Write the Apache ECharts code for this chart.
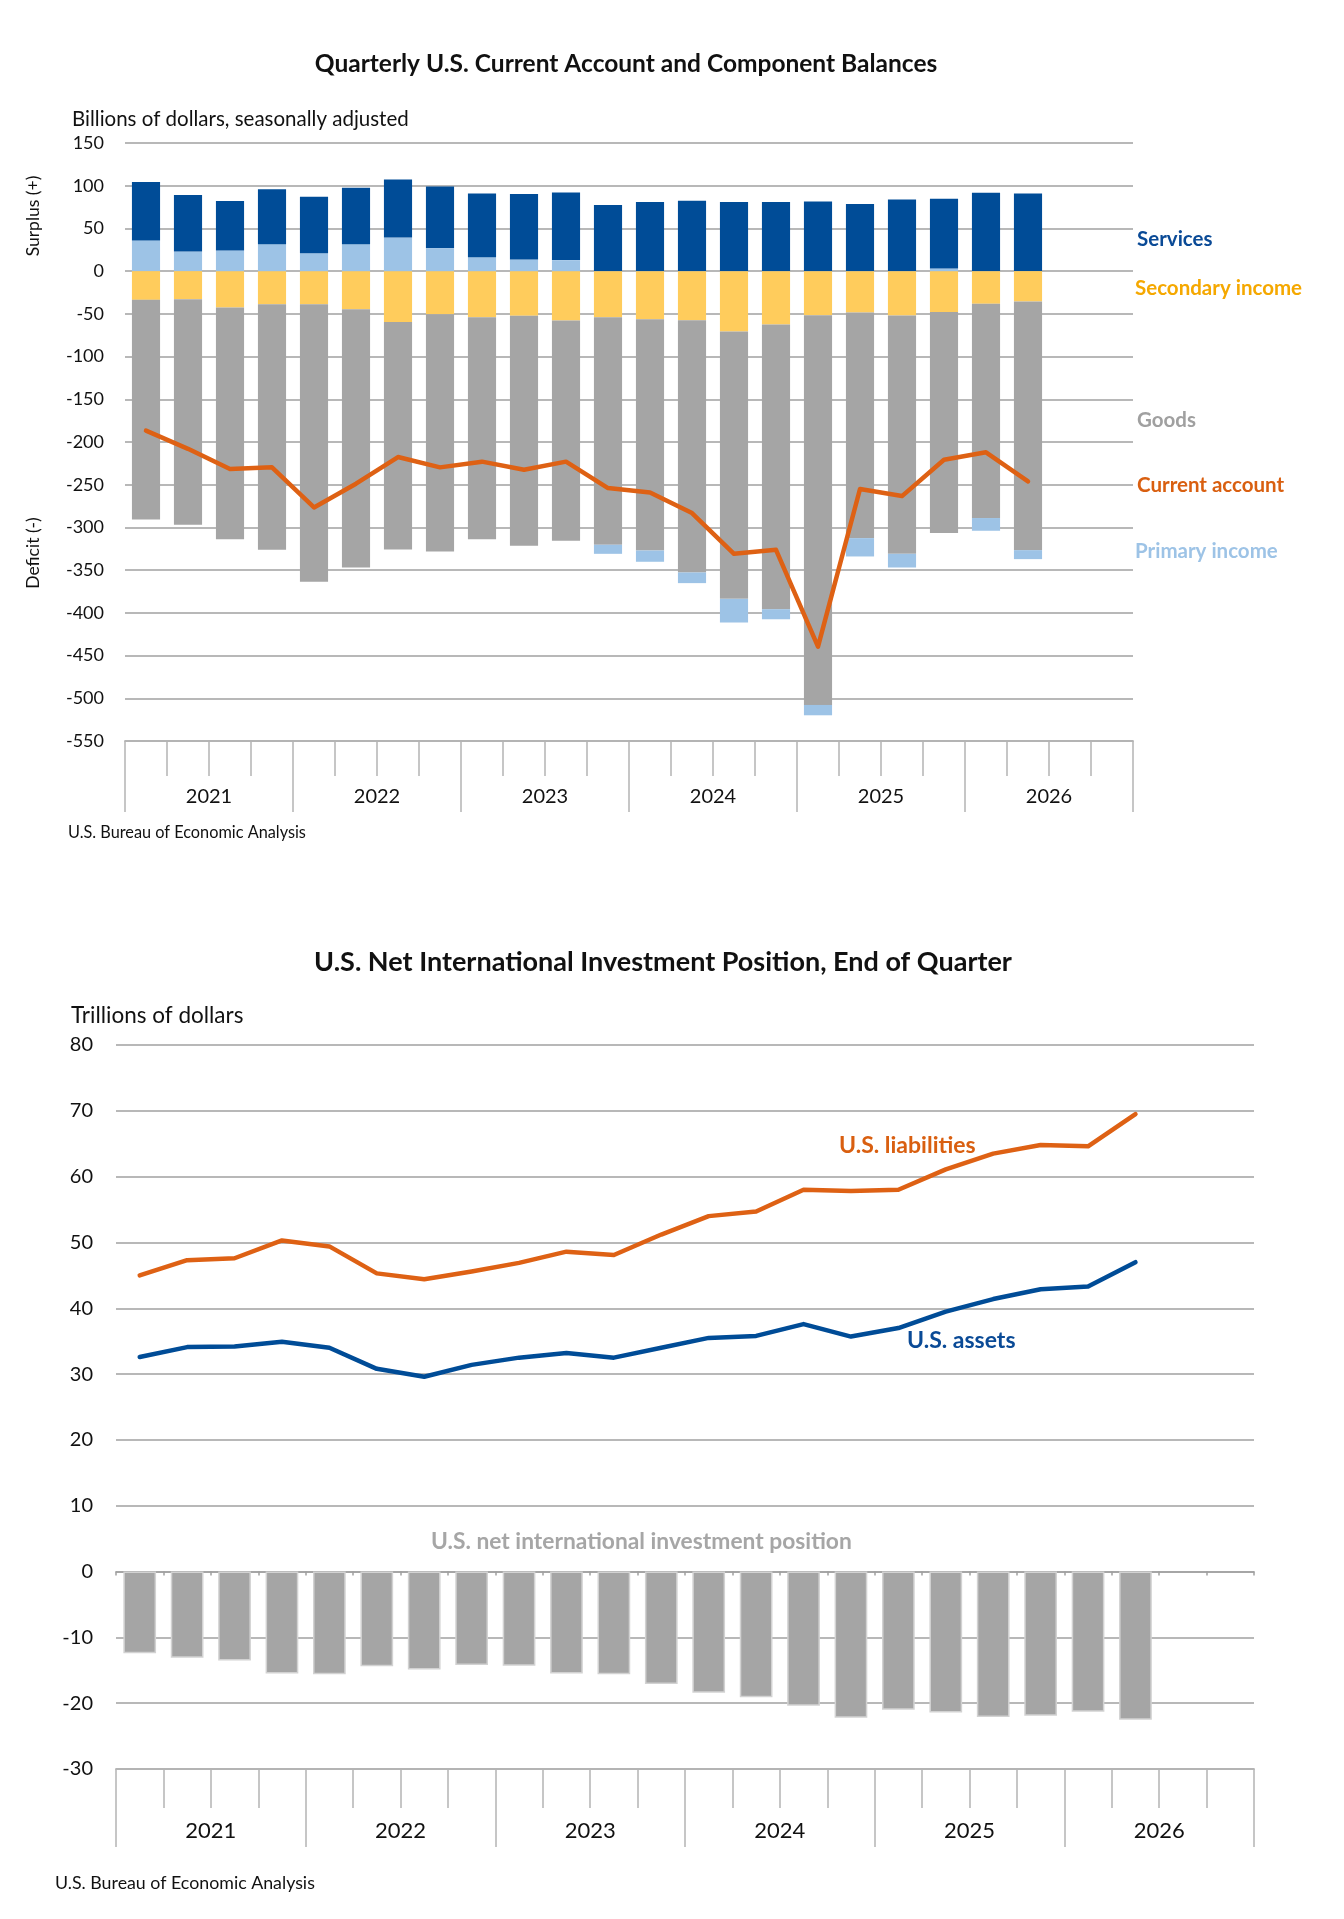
<!DOCTYPE html>
<html>
<head>
<meta charset="utf-8">
<script src="https://cdn.jsdelivr.net/npm/echarts@6/dist/echarts.min.js"></script>
<style>
  html, body { margin: 0; padding: 0; background: #fff; }
  #chart { width: 1344px; height: 1919px; }
</style>
</head>
<body>
<div id="chart"></div>
<script>
// ---------- Data: top chart (billions of dollars) ----------
const quarters = [
  '2021 Q1','2021 Q2','2021 Q3','2021 Q4',
  '2022 Q1','2022 Q2','2022 Q3','2022 Q4',
  '2023 Q1','2023 Q2','2023 Q3','2023 Q4',
  '2024 Q1','2024 Q2','2024 Q3','2024 Q4',
  '2025 Q1','2025 Q2','2025 Q3','2025 Q4',
  '2026 Q1','2026 Q2','2026 Q3','2026 Q4'
];
const years = ['2021', '2022', '2023', '2024', '2025', '2026'];

const services = [68.3, 66.0, 57.8, 64.4, 66.0, 66.1, 67.9, 72.2, 74.6, 76.5, 79.3,
                  77.3, 80.9, 82.4, 80.9, 80.9, 81.6, 78.5, 84.0, 81.7, 91.8, 91.0];
const primaryIncome = [36.0, 23.0, 24.2, 31.6, 21.0, 31.6, 39.5, 27.0, 16.4, 13.7, 12.9,
                  -10.6, -13.2, -12.5, -27.7, -11.8, -12.1, -21.5, -16.0, 3.1, -14.9, -10.5];
const secondaryIncome = [-33.6, -32.8, -42.6, -38.7, -38.7, -44.5, -59.4, -50.4, -53.9, -52.3, -57.8,
                  -53.9, -56.3, -57.4, -70.7, -62.5, -51.6, -48.4, -52.0, -47.7, -38.3, -35.5];
const goods = [-257.0, -264.1, -271.1, -287.5, -325.0, -302.4, -266.4, -277.7, -259.8, -269.2, -257.8,
                  -266.4, -270.7, -295.3, -312.9, -333.2, -456.2, -264.1, -278.9, -258.9, -250.7, -291.1];
const currentAccount = [-186.7, -208.0, -231.6, -229.7, -276.6, -248.8, -217.6, -229.7, -223.0, -232.4, -223.0,
                  -253.9, -259.0, -283.2, -330.9, -326.2, -439.5, -255.0, -263.3, -220.7, -212.1, -246.1];

// ---------- Data: bottom chart (trillions of dollars) ----------
const liabilities = [45.0, 47.3, 47.6, 50.3, 49.4, 45.3, 44.4, 45.6, 46.9, 48.6, 48.1,
                  51.2, 54.0, 54.7, 58.0, 57.8, 58.0, 61.1, 63.5, 64.8, 64.6, 69.5];
const assets = [32.6, 34.1, 34.2, 34.9, 34.0, 30.8, 29.6, 31.4, 32.5, 33.2, 32.5,
                  34.0, 35.5, 35.8, 37.6, 35.7, 37.0, 39.5, 41.4, 42.9, 43.3, 47.0];
const netIIP = [-12.4, -13.1, -13.5, -15.5, -15.6, -14.4, -14.9, -14.2, -14.3, -15.5, -15.6,
                  -17.1, -18.4, -19.1, -20.4, -22.2, -21.0, -21.4, -22.1, -21.9, -21.3, -22.5];

// ---------- Styling ----------
const FONT = 'Lato, "Open Sans", sans-serif';
const C_SERV = '#004C97';
const C_PRIM = '#9DC3E6';
const C_SEC = '#FFCC5C';
const C_GOODS = '#A5A5A5';
const C_CA = '#DE6114';
const GRIDLINE = '#A0A0A0';
const AXISLINE = '#B4B4B4';

const primaryPos = primaryIncome.map(v => (v > 0 ? v : 0));
const primaryNeg = primaryIncome.map(v => (v < 0 ? v : 0));

const chart = echarts.init(document.getElementById('chart'), null, { renderer: 'canvas' });

function txt(x, y, text, opts) {
  return {
    type: 'text', x: x, y: y, rotation: opts.rotation || 0, silent: true,
    style: {
      text: text,
      fill: opts.color || '#000',
      font: (opts.weight || 'normal') + ' ' + opts.size + 'px ' + FONT,
      align: opts.align || 'left',
      verticalAlign: 'middle'
    }
  };
}

const option = {
  animation: false,
  backgroundColor: '#ffffff',
  textStyle: { fontFamily: FONT },
  grid: [
    { left: 125, top: 143, width: 1008, height: 598 },
    { left: 116, top: 1045, width: 1138, height: 724 }
  ],
  xAxis: [
    { // 0: quarter ticks, top chart
      gridIndex: 0, type: 'category', data: quarters, boundaryGap: true, position: 'bottom',
      axisLine: { onZero: false, lineStyle: { color: AXISLINE, width: 1.5 } },
      axisTick: { show: true, interval: 0, length: 35, lineStyle: { color: AXISLINE, width: 1.5 } },
      axisLabel: { show: false }
    },
    { // 1: year groups, top chart
      gridIndex: 0, type: 'category', data: years, boundaryGap: true, position: 'bottom',
      axisLine: { onZero: false, lineStyle: { color: AXISLINE, width: 1.5 } },
      axisTick: { show: true, interval: 0, length: 71, lineStyle: { color: AXISLINE, width: 1.5 } },
      axisLabel: { show: true, interval: 0, margin: 46, fontSize: 20, color: '#111', fontFamily: FONT }
    },
    { // 2: quarter ticks, bottom chart
      gridIndex: 1, type: 'category', data: quarters, boundaryGap: true, position: 'bottom',
      axisLine: { onZero: false, lineStyle: { color: AXISLINE, width: 1.5 } },
      axisTick: { show: true, interval: 0, length: 39, lineStyle: { color: AXISLINE, width: 1.5 } },
      axisLabel: { show: false }
    },
    { // 3: year groups, bottom chart
      gridIndex: 1, type: 'category', data: years, boundaryGap: true, position: 'bottom',
      axisLine: { onZero: false, lineStyle: { color: AXISLINE, width: 1.5 } },
      axisTick: { show: true, interval: 0, length: 78, lineStyle: { color: AXISLINE, width: 1.5 } },
      axisLabel: { show: true, interval: 0, margin: 51, fontSize: 22, color: '#111', fontFamily: FONT }
    },
    { // 4: small ticks on zero line, bottom chart
      gridIndex: 1, type: 'category', data: quarters, boundaryGap: true, position: 'bottom',
      axisLine: { onZero: true, onZeroAxisIndex: 1, lineStyle: { color: GRIDLINE, width: 1.5 } },
      axisTick: { show: true, interval: 0, length: 4, lineStyle: { color: GRIDLINE, width: 1.5 } },
      axisLabel: { show: false }
    }
  ],
  yAxis: [
    {
      gridIndex: 0, type: 'value', min: -550, max: 150, interval: 50,
      axisLine: { show: false }, axisTick: { show: false },
      axisLabel: { fontSize: 18, color: '#111', margin: 21, fontFamily: FONT },
      splitLine: { lineStyle: { color: GRIDLINE, width: 1.5 } }
    },
    {
      gridIndex: 1, type: 'value', min: -30, max: 80, interval: 10,
      axisLine: { show: false }, axisTick: { show: false },
      axisLabel: { fontSize: 20, color: '#111', margin: 23, fontFamily: FONT },
      splitLine: { lineStyle: { color: GRIDLINE, width: 1.5 } }
    }
  ],
  series: [
    { name: 'Primary income (+)', type: 'bar', stack: 'ca', xAxisIndex: 0, yAxisIndex: 0,
      data: primaryPos, itemStyle: { color: C_PRIM }, barCategoryGap: '33%' },
    { name: 'Services', type: 'bar', stack: 'ca', xAxisIndex: 0, yAxisIndex: 0,
      data: services, itemStyle: { color: C_SERV }, barCategoryGap: '33%' },
    { name: 'Secondary income', type: 'bar', stack: 'ca', xAxisIndex: 0, yAxisIndex: 0,
      data: secondaryIncome, itemStyle: { color: C_SEC }, barCategoryGap: '33%' },
    { name: 'Goods', type: 'bar', stack: 'ca', xAxisIndex: 0, yAxisIndex: 0,
      data: goods, itemStyle: { color: C_GOODS }, barCategoryGap: '33%' },
    { name: 'Primary income (-)', type: 'bar', stack: 'ca', xAxisIndex: 0, yAxisIndex: 0,
      data: primaryNeg, itemStyle: { color: C_PRIM }, barCategoryGap: '33%' },
    { name: 'Current account', type: 'line', xAxisIndex: 0, yAxisIndex: 0, z: 5,
      data: currentAccount, symbol: 'none',
      lineStyle: { color: C_CA, width: 4.5, cap: 'round', join: 'round' } },

    { name: 'U.S. net international investment position', type: 'bar', xAxisIndex: 2, yAxisIndex: 1,
      data: netIIP, barCategoryGap: '31%',
      itemStyle: { color: '#A5A5A5', borderColor: '#D2D2D2', borderWidth: 1.5 } },
    { name: 'U.S. liabilities', type: 'line', xAxisIndex: 2, yAxisIndex: 1, z: 5,
      data: liabilities, symbol: 'none',
      lineStyle: { color: C_CA, width: 4.5, cap: 'round', join: 'round' } },
    { name: 'U.S. assets', type: 'line', xAxisIndex: 2, yAxisIndex: 1, z: 5,
      data: assets, symbol: 'none',
      lineStyle: { color: C_SERV, width: 4.5, cap: 'round', join: 'round' } }
  ],
  graphic: [
    txt(626, 64, 'Quarterly U.S. Current Account and Component Balances', { size: 24.5, weight: 'bold', align: 'center', color: '#111' }),
    txt(72, 119, 'Billions of dollars, seasonally adjusted', { size: 20.5, color: '#111' }),
    txt(33, 216, 'Surplus (+)', { size: 17.5, rotation: Math.PI / 2, align: 'center', color: '#111' }),
    txt(33, 553, 'Deficit (-)', { size: 17.5, rotation: Math.PI / 2, align: 'center', color: '#111' }),
    txt(1137, 239, 'Services', { size: 20.5, weight: 'bold', color: '#0A4A96' }),
    txt(1135, 288, 'Secondary income', { size: 20.5, weight: 'bold', color: '#F5A800' }),
    txt(1137, 420, 'Goods', { size: 20.5, weight: 'bold', color: '#A0A0A0' }),
    txt(1137, 485, 'Current account', { size: 20.5, weight: 'bold', color: '#D95F10' }),
    txt(1135, 551, 'Primary income', { size: 20.5, weight: 'bold', color: '#9DC3E6' }),
    txt(68, 833, 'U.S. Bureau of Economic Analysis', { size: 16.3, color: '#111' }),

    txt(663, 962, 'U.S. Net International Investment Position, End of Quarter', { size: 27, weight: 'bold', align: 'center', color: '#111' }),
    txt(71, 1016, 'Trillions of dollars', { size: 22.5, color: '#111' }),
    txt(839, 1146, 'U.S. liabilities', { size: 23, weight: 'bold', color: '#D95F10' }),
    txt(907, 1341, 'U.S. assets', { size: 23, weight: 'bold', color: '#0A4A96' }),
    txt(431, 1542, 'U.S. net international investment position', { size: 22.8, weight: 'bold', color: '#A6A6A6' }),
    txt(55, 1883, 'U.S. Bureau of Economic Analysis', { size: 17.8, color: '#111' })
  ]
};

chart.setOption(option);
</script>
</body>
</html>
